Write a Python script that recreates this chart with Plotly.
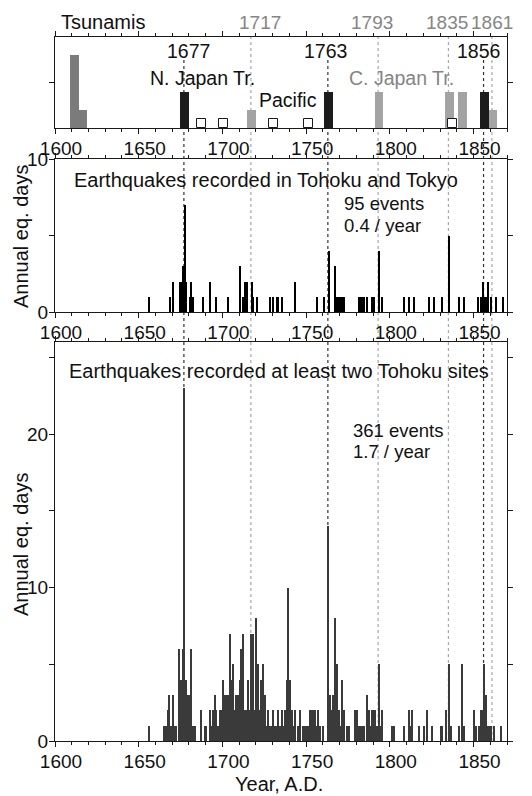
import plotly.graph_objects as go

# ---------------- data ----------------
# Tsunami panel: bar height encodes size class
early_years = [1611, 1616]
early_heights = [8, 2]
n_japan_years = [1677, 1763, 1856]
n_japan_heights = [4, 4, 4]
c_japan_years = [1717, 1793, 1835, 1843, 1861]
c_japan_heights = [2, 4, 4, 4, 2]
pacific_years = [1687, 1700, 1730, 1751, 1837]
pacific_heights = [1, 1, 1, 1, 1]

# Earthquakes recorded in Tohoku and Tokyo (annual earthquake days)
tt_years = [1656, 1668, 1670, 1674, 1675, 1676, 1677, 1678, 1680, 1681, 1682, 1688,
            1692, 1696, 1703, 1710, 1712, 1713, 1714, 1717, 1718, 1720, 1728, 1730,
            1732, 1733, 1735, 1743, 1756, 1760, 1763, 1767, 1768, 1769, 1770, 1771,
            1772, 1781, 1782, 1783, 1784, 1786, 1789, 1790, 1793, 1795, 1808, 1811,
            1814, 1823, 1826, 1831, 1835, 1841, 1844, 1852, 1854, 1855, 1856, 1857,
            1858, 1860, 1863, 1867]
tt_days = [1, 1, 2, 2, 2, 3, 7, 2, 1, 2, 1, 1,
           2, 1, 1, 3, 1, 2, 2, 2, 1, 1, 1, 1,
           1, 1, 1, 2, 1, 1, 4, 3, 1, 1, 1, 1,
           1, 1, 1, 1, 1, 1, 1, 1, 4, 1, 1, 1,
           1, 1, 1, 1, 5, 1, 1, 1, 1, 2, 1, 1,
           2, 1, 1, 1]

# Earthquakes recorded at two or more Tohoku sites (annual earthquake days)
th_years = [1656,
            1665, 1666, 1667, 1668, 1669, 1670, 1671, 1672,
            1674, 1675, 1676, 1677, 1678, 1679, 1680, 1681, 1682, 1683,
            1687, 1689, 1690, 1692, 1693, 1694, 1695, 1696, 1697, 1698, 1699,
            1700, 1701, 1702, 1703, 1704, 1705, 1706, 1707, 1708, 1709,
            1710, 1711, 1712, 1713, 1714, 1715, 1716, 1717, 1718, 1719,
            1720, 1721, 1722, 1723, 1724, 1725, 1726, 1727, 1728, 1729,
            1730, 1731, 1732, 1733, 1734, 1735, 1736, 1737, 1738, 1739,
            1740, 1741, 1742, 1743, 1745, 1746, 1748, 1749, 1750, 1751,
            1752, 1753, 1754, 1755, 1756, 1757, 1758, 1760,
            1763, 1764, 1765, 1766, 1767, 1768, 1769, 1770, 1771, 1772, 1774, 1775,
            1779, 1780, 1781, 1782, 1783, 1784, 1786, 1787, 1788, 1789, 1790, 1791,
            1792, 1793, 1794, 1795,
            1801, 1802, 1808, 1811, 1812, 1813, 1817, 1820, 1822, 1825, 1830, 1831,
            1833, 1835, 1836, 1841, 1843, 1844,
            1850, 1851, 1853, 1854, 1855, 1856, 1857, 1858, 1859, 1860, 1862, 1866]
th_days = [1,
           1, 1, 2, 3, 1, 3, 1, 1,
           6, 4, 6, 23, 4, 3, 3, 6, 1, 1,
           2, 1, 1, 2, 1, 2, 3, 2, 1, 2, 2,
           4, 3, 3, 3, 7, 4, 5, 2, 3, 3,
           4, 6, 7, 2, 2, 4, 2, 7, 7, 2,
           8, 5, 2, 4, 5, 3, 1, 2, 1, 1,
           2, 1, 1, 2, 1, 2, 1, 2, 4, 10,
           4, 2, 1, 2, 1, 2, 1, 1, 1, 1,
           2, 2, 2, 2, 1, 2, 1, 1,
           14, 3, 2, 3, 8, 5, 2, 1, 4, 2, 1, 1,
           2, 2, 1, 1, 1, 1, 3, 2, 1, 2, 2, 2,
           1, 5, 1, 2,
           1, 1, 1, 2, 1, 2, 1, 1, 2, 1, 1, 1,
           2, 5, 1, 1, 5, 1,
           2, 1, 1, 2, 2, 5, 3, 1, 1, 1, 1, 1]

# Reference tsunami years drawn as dotted guides
dark_guides = [1677, 1763, 1856]
light_guides = [1717, 1793, 1835, 1861]

year_ticks = [1600, 1650, 1700, 1750, 1800, 1850]

# ---------------- styling ----------------
FONT = "Liberation Sans, Arial, sans-serif"
INK = "#1a1a1a"
GRAY_TXT = "#858585"
LIGHT_BAR = "#a3a3a3"
MID_BAR = "#7b7b7b"
DARK_BAR = "#1c1c1c"

W, H = 532, 796
ML, MR, MT, MB = 55, 25, 37, 55
plot_h = H - MT - MB


def py(pix):
    """vertical pixel position -> paper coordinate"""
    return (H - MB - pix) / plot_h


def px(pix):
    """horizontal pixel position -> paper coordinate"""
    return (pix - ML) / (W - ML - MR)


fig = go.Figure()


def add_bars(x, y, xa, ya, color, width, line_color=None, line_width=0):
    fig.add_trace(go.Bar(
        x=x, y=y, xaxis=xa, yaxis=ya, width=width, offset=0.5 - width / 2,
        marker=dict(color=color, line=dict(color=line_color or color, width=line_width)),
        showlegend=False, hoverinfo="skip"))


tw = 5.2
add_bars(early_years, early_heights, "x", "y", MID_BAR, tw)
add_bars(c_japan_years, c_japan_heights, "x", "y", LIGHT_BAR, tw)
add_bars(n_japan_years, n_japan_heights, "x", "y", DARK_BAR, tw)
add_bars(pacific_years, pacific_heights, "x", "y", "white", tw, line_color=INK, line_width=1)

add_bars(tt_years, tt_days, "x2", "y2", "#000000", 0.75)
add_bars(th_years, th_days, "x3", "y3", "#3a3a3a", 0.9)

xcommon = dict(
    range=[1600, 1870], showline=True, mirror="ticks", linecolor=INK, linewidth=1.3,
    ticks="outside", ticklen=5, tickwidth=1, tickcolor=INK,
    tickvals=year_ticks, tickfont=dict(size=19, color="#111", family=FONT),
    ticklabelstandoff=-2,
    minor=dict(tick0=1600, dtick=10, ticks="outside", ticklen=3, tickcolor=INK, showgrid=False),
    showgrid=False, zeroline=False, ticklabelshift=6, fixedrange=True,
)
ycommon = dict(
    showline=True, mirror="ticks", linecolor=INK, linewidth=1.3,
    ticks="outside", ticklen=5, tickwidth=1, tickcolor=INK,
    tickfont=dict(size=19, color="#111", family=FONT), ticklabelstandoff=-3,
    showgrid=False, zeroline=False, fixedrange=True,
)

top_dom = [py(128.3), 1.0]
mid_dom = [py(312.3), py(159)]
bot_dom = [0.0, py(342)]

fig.update_layout(
    width=W, height=H,
    margin=dict(l=ML, r=MR, t=MT, b=MB, pad=0),
    paper_bgcolor="white", plot_bgcolor="rgba(0,0,0,0)",
    barmode="overlay", bargap=0,
    font=dict(family=FONT, color="#111"),
    xaxis=dict(xcommon, anchor="y"),
    xaxis2=dict(xcommon, anchor="y2"),
    xaxis3=dict(xcommon, anchor="y3"),
    yaxis=dict(ycommon, domain=top_dom, range=[0, 10], tickvals=[5],
               showticklabels=False, anchor="x"),
    yaxis2=dict(ycommon, domain=mid_dom, range=[0, 10], tickvals=[0, 5, 10],
                ticktext=["0", "", "10"], anchor="x2"),
    yaxis3=dict(ycommon, domain=bot_dom, range=[0, 26], tickvals=[0, 5, 10, 15, 20, 25],
                ticktext=["0", "", "10", "", "20", ""], anchor="x3"),
)

# dotted guide lines through all panels
for yr in dark_guides:
    fig.add_shape(type="line", xref="x", yref="paper", x0=yr, x1=yr, y0=0, y1=py(60),
                  line=dict(color="#333333", width=1.2, dash="dot"), layer="below")
for yr in light_guides:
    fig.add_shape(type="line", xref="x", yref="paper", x0=yr, x1=yr, y0=0, y1=1.0,
                  line=dict(color="#a8a8a8", width=1.2, dash="dot"), layer="below")


def label(text, xpix, ypix, size=19.5, color="#111", xanchor="center", angle=0):
    fig.add_annotation(text=text, xref="paper", yref="paper", x=px(xpix), y=py(ypix),
                       xanchor=xanchor, yanchor="middle", showarrow=False, borderpad=0,
                       textangle=angle, font=dict(size=size, color=color, family=FONT))


# tsunami panel labels
label("Tsunamis", 103, 22, size=20)
label("1717", 260, 22, size=19, color=GRAY_TXT)
label("1793", 372, 22, size=19, color=GRAY_TXT)
label("1835", 447, 22, size=19, color=GRAY_TXT)
label("1861", 492, 22, size=19, color=GRAY_TXT)
label("1677", 188, 51)
label("1763", 325, 51)
label("1856", 478, 51)
label("N. Japan Tr.", 202, 78)
label("C. Japan Tr.", 401, 78, color=GRAY_TXT)
label("Pacific", 288, 100)

# middle panel labels
label("Earthquakes recorded in Tohoku and Tokyo", 266, 180, size=20)
label("95 events", 343, 204, size=18.5, xanchor="left")
label("0.4 / year", 343, 226, size=18.5, xanchor="left")

# bottom panel labels
label("Earthquakes recorded at least two Tohoku sites", 279, 371, size=20)
label("361 events", 352, 430, size=18.5, xanchor="left")
label("1.7 / year", 352, 451, size=18.5, xanchor="left")

# axis titles
label("Annual eq. days", 21, 237, size=20, angle=-90)
label("Annual eq. days", 21, 545, size=20, angle=-90)
label("Year, A.D.", 279, 784, size=20)

fig.write_html("out.html")
